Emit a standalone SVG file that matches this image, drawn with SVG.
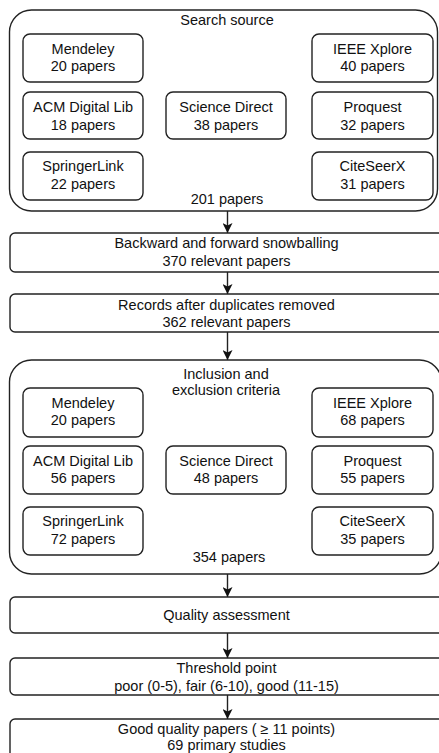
<svg xmlns="http://www.w3.org/2000/svg" width="439" height="753" viewBox="0 0 439 753">
<style>
text{font-family:"Liberation Sans",Arial,sans-serif;font-size:14.5px;fill:#111;text-anchor:middle}
.outer{fill:#fff;stroke:#222;stroke-width:1.4}
.inner{fill:#fff;stroke:#222;stroke-width:1.4}
.step{fill:#fff;stroke:#222;stroke-width:1.4}
.conn{stroke:#222;stroke-width:1.4;fill:none}
</style>
<defs>
<marker id="arr" viewBox="0 0 10 10" refX="10" refY="5" markerWidth="10" markerHeight="10" markerUnits="userSpaceOnUse" orient="auto">
<path d="M0,0 L10,5 L0,10 L2.5,5 Z" fill="#111"/>
</marker>
</defs>
<rect width="439" height="753" fill="#fff"/>
<g id="connectors">
<line class="conn" x1="227.5" y1="211" x2="227.5" y2="233" marker-end="url(#arr)"/>
<line class="conn" x1="227.5" y1="272" x2="227.5" y2="294" marker-end="url(#arr)"/>
<line class="conn" x1="227.5" y1="332" x2="227.5" y2="360" marker-end="url(#arr)"/>
<line class="conn" x1="227.5" y1="574" x2="227.5" y2="597" marker-end="url(#arr)"/>
<line class="conn" x1="227.5" y1="633" x2="227.5" y2="658" marker-end="url(#arr)"/>
<line class="conn" x1="227.5" y1="695" x2="227.5" y2="719" marker-end="url(#arr)"/>
</g>
<g id="search-source">
<rect class="outer" x="9.5" y="10" width="428" height="201" rx="22"/>
<text x="227" y="25">Search source</text>
<text x="227" y="204">201 papers</text>
</g>
<g id="s-mendeley"><rect class="inner" x="23" y="34" width="120" height="48" rx="7"/><text x="83" y="54">Mendeley</text><text x="83" y="71">20 papers</text></g>
<g id="s-ieee"><rect class="inner" x="312" y="34" width="121" height="48" rx="7"/><text x="372.5" y="54">IEEE Xplore</text><text x="372.5" y="71">40 papers</text></g>
<g id="s-acm"><rect class="inner" x="23" y="92" width="120" height="47" rx="7"/><text x="83" y="112">ACM Digital Lib</text><text x="83" y="130">18 papers</text></g>
<g id="s-science"><rect class="inner" x="166" y="92" width="120" height="47" rx="7"/><text x="226" y="112">Science Direct</text><text x="226" y="130">38 papers</text></g>
<g id="s-proquest"><rect class="inner" x="312" y="92" width="121" height="47" rx="7"/><text x="372.5" y="112">Proquest</text><text x="372.5" y="130">32 papers</text></g>
<g id="s-springer"><rect class="inner" x="23" y="152" width="120" height="48" rx="7"/><text x="83" y="171">SpringerLink</text><text x="83" y="189">22 papers</text></g>
<g id="s-citeseer"><rect class="inner" x="312" y="152" width="121" height="48" rx="7"/><text x="372.5" y="171">CiteSeerX</text><text x="372.5" y="189">31 papers</text></g>
<g id="snowballing">
<rect class="step" x="10" y="233" width="436" height="39" rx="5"/>
<text x="226.5" y="248">Backward and forward snowballing</text>
<text x="226.5" y="266">370 relevant papers</text>
</g>
<g id="duplicates">
<rect class="step" x="10" y="294" width="436" height="38" rx="5"/>
<text x="226.5" y="310">Records after duplicates removed</text>
<text x="226.5" y="327">362 relevant papers</text>
</g>
<g id="inclusion">
<rect class="outer" x="9.5" y="360" width="432" height="214" rx="22"/>
<text x="226" y="379">Inclusion and</text>
<text x="226" y="395">exclusion criteria</text>
<text x="229" y="562">354 papers</text>
</g>
<g id="i-mendeley"><rect class="inner" x="23" y="388" width="120" height="49" rx="7"/><text x="83" y="408">Mendeley</text><text x="83" y="425">20 papers</text></g>
<g id="i-ieee"><rect class="inner" x="312" y="388" width="121" height="49" rx="7"/><text x="372.5" y="408">IEEE Xplore</text><text x="372.5" y="425">68 papers</text></g>
<g id="i-acm"><rect class="inner" x="23" y="446" width="120" height="48" rx="7"/><text x="83" y="466">ACM Digital Lib</text><text x="83" y="483">56 papers</text></g>
<g id="i-science"><rect class="inner" x="166" y="446" width="120" height="48" rx="7"/><text x="226" y="466">Science Direct</text><text x="226" y="483">48 papers</text></g>
<g id="i-proquest"><rect class="inner" x="312" y="446" width="121" height="48" rx="7"/><text x="372.5" y="466">Proquest</text><text x="372.5" y="483">55 papers</text></g>
<g id="i-springer"><rect class="inner" x="23" y="507" width="120" height="48" rx="7"/><text x="83" y="526">SpringerLink</text><text x="83" y="544">72 papers</text></g>
<g id="i-citeseer"><rect class="inner" x="312" y="507" width="121" height="48" rx="7"/><text x="372.5" y="526">CiteSeerX</text><text x="372.5" y="544">35 papers</text></g>
<g id="quality">
<rect class="step" x="10" y="597" width="436" height="36" rx="5"/>
<text x="226.5" y="620">Quality assessment</text>
</g>
<g id="threshold">
<rect class="step" x="10" y="658" width="436" height="37" rx="5"/>
<text x="226.5" y="673">Threshold point</text>
<text x="226.5" y="691">poor (0-5), fair (6-10), good (11-15)</text>
</g>
<g id="good">
<rect class="step" x="10" y="719" width="436" height="45" rx="5"/>
<text x="226.5" y="734">Good quality papers ( ≥ 11 points)</text>
<text x="226.5" y="750">69 primary studies</text>
</g>
</svg>
